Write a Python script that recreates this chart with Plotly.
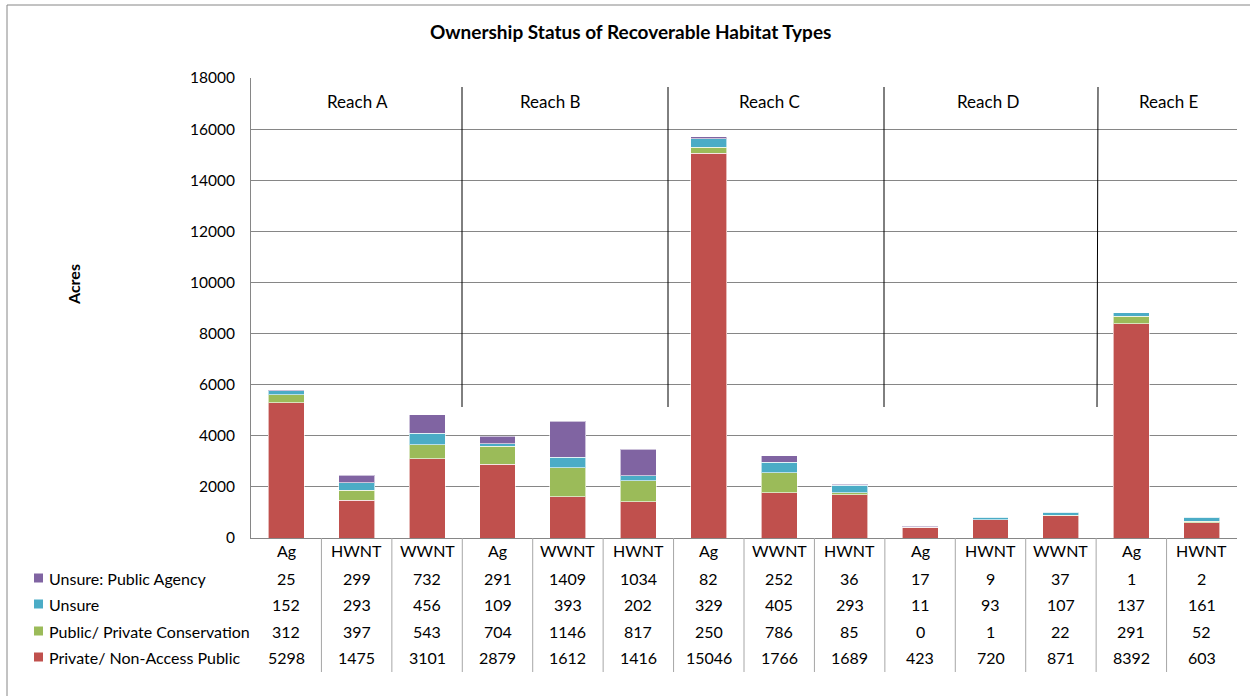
import plotly.graph_objects as go

categories = ["Ag", "HWNT", "WWNT", "Ag", "WWNT", "HWNT", "Ag", "WWNT", "HWNT",
              "Ag", "HWNT", "WWNT", "Ag", "HWNT"]
unsure_public_agency = [25, 299, 732, 291, 1409, 1034, 82, 252, 36, 17, 9, 37, 1, 2]
unsure = [152, 293, 456, 109, 393, 202, 329, 405, 293, 11, 93, 107, 137, 161]
public_private_conservation = [312, 397, 543, 704, 1146, 817, 250, 786, 85, 0, 1, 22, 291, 52]
private_non_access = [5298, 1475, 3101, 2879, 1612, 1416, 15046, 1766, 1689, 423, 720, 871, 8392, 603]
reach_labels = ["Reach A", "Reach B", "Reach C", "Reach D", "Reach E"]
y_ticks = [0, 2000, 4000, 6000, 8000, 10000, 12000, 14000, 16000, 18000]

W, H = 1250, 696
L, R, T, B = 251, 1237, 78, 538
FONT = "Lato"

def px2paper_x(px):
    return (px - L) / (R - L)

def py2paper_y(py):
    return (B - py) / (B - T)

def px2data_x(px):
    return (px - L) / ((R - L) / len(categories)) - 0.5

def py2data_y(py):
    return (B - py) / (B - T) * 18000

series = [
    ("Private/ Non-Access Public", private_non_access, "#C0504D"),
    ("Public/ Private Conservation", public_private_conservation, "#9BBB59"),
    ("Unsure", unsure, "#4BACC6"),
    ("Unsure: Public Agency", unsure_public_agency, "#8064A2"),
]

xs = list(range(len(categories)))
fig = go.Figure()
for name, vals, col in series:
    fig.add_trace(go.Bar(
        x=xs, y=vals, name=name, width=0.51,
        marker=dict(color=col, line=dict(color="rgba(255,255,255,0.6)", width=1)),
        showlegend=False,
    ))

shapes = []
annotations = []

def note(x, y, text, xref="paper", yref="paper", xanchor="center", size=16, angle=0):
    annotations.append(dict(x=x, y=y, xref=xref, yref=yref, text=text, showarrow=False,
                            xanchor=xanchor, yanchor="middle", textangle=angle,
                            font=dict(family=FONT, size=size, color="black")))

# outer chart border
shapes.append(dict(type="rect", xref="paper", yref="paper",
                   x0=px2paper_x(7), x1=px2paper_x(1252), y0=py2paper_y(700), y1=py2paper_y(5),
                   line=dict(color="#868686", width=1), fillcolor="rgba(0,0,0,0)", layer="below"))

# reach divider lines
for px_top, px_bot in [(462, 462), (668, 668), (884, 884), (1098, 1097)]:
    shapes.append(dict(type="line", xref="x", yref="y",
                       x0=px2data_x(px_top), x1=px2data_x(px_bot),
                       y0=py2data_y(87), y1=py2data_y(407),
                       line=dict(color="black", width=1)))

# reach labels
for lab, px in zip(reach_labels, [357, 550, 769, 988, 1168]):
    note(px2data_x(px), py2data_y(101), lab, xref="x", yref="y", size=17)

# data table vertical lines
for k in range(1, len(categories)):
    shapes.append(dict(type="line", xref="x", yref="paper", x0=k - 0.5, x1=k - 0.5,
                       y0=0, y1=py2paper_y(672), line=dict(color="#A6A6A6", width=1)))

# category labels row
for i, c in enumerate(categories):
    note(i, py2paper_y(550), c, xref="x")

row_y = [578, 604, 631, 657]
table_rows = list(reversed(series))
for (name, vals, col), py in zip(table_rows, row_y):
    shapes.append(dict(type="rect", xref="paper", yref="paper",
                       x0=px2paper_x(34), x1=px2paper_x(43),
                       y0=py2paper_y(py + 4.5), y1=py2paper_y(py - 4.5),
                       fillcolor=col, line=dict(width=0)))
    note(px2paper_x(47), py2paper_y(py), name, xanchor="left")
    for i, v in enumerate(vals):
        note(i, py2paper_y(py), str(v), xref="x")

# title and y-axis title
note(px2paper_x(630), py2paper_y(32), "<b>Ownership Status of Recoverable Habitat Types</b>", size=19)
note(px2paper_x(73), py2paper_y(285), "<b>Acres</b>", angle=-90, size=16)

fig.update_layout(
    width=W, height=H,
    margin=dict(l=L, r=W - R, t=T, b=H - B, pad=0, autoexpand=False),
    barmode="stack",
    paper_bgcolor="white", plot_bgcolor="white",
    shapes=shapes, annotations=annotations,
    xaxis=dict(range=[-0.5, len(categories) - 0.5], showticklabels=False, showgrid=False,
               showline=True, linecolor="#868686", linewidth=1, ticks="", zeroline=False,
               fixedrange=True),
    yaxis=dict(range=[0, 18000], tickvals=y_ticks, tickformat="d", showgrid=True,
               gridcolor="#868686", gridwidth=1, showline=True, linecolor="#868686",
               linewidth=1, zeroline=False, ticks="", ticklen=0,
               tickfont=dict(family=FONT, size=15.5, color="black"),
               ticklabelstandoff=12, fixedrange=True),
    font=dict(family=FONT),
)

fig.write_html("out.html", config={"displayModeBar": False},
               post_script="document.body.style.margin='0px';")
